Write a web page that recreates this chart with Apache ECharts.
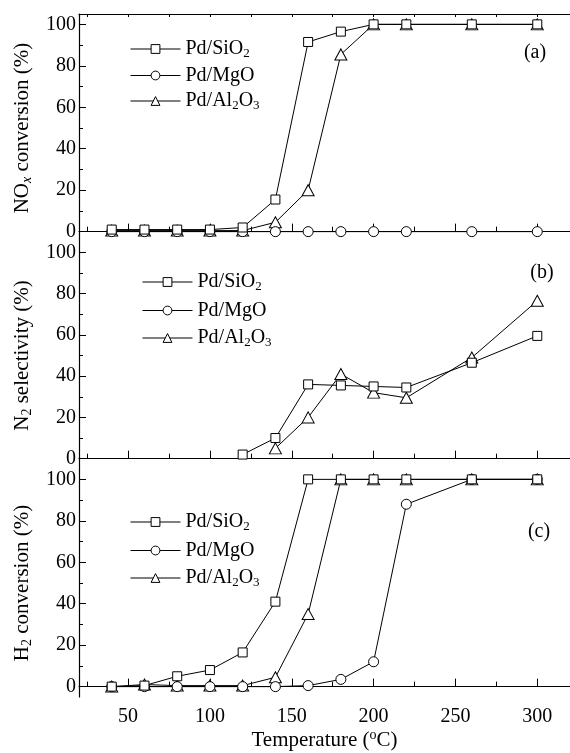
<!DOCTYPE html>
<html>
<head>
<meta charset="utf-8">
<script src="https://cdn.jsdelivr.net/npm/echarts@6/dist/echarts.min.js"></script>
<style>
html,body{margin:0;padding:0;background:#fff;}
#main{width:570px;height:753px;}
</style>
</head>
<body>
<div id="main"></div>
<script>
// temperatures (C)
var temps = [40, 60, 80, 100, 120, 140, 160, 180, 200, 220, 260, 300];
// (a) NOx conversion
var noxSiO2 = [1, 1, 1, 1, 2, 15.5, 91.5, 96.5, 100, 100, 100, 100];
var noxMgO = [0, 0, 0, 0, 0, 0, 0, 0, 0, 0, 0, 0];
var noxAl2O3 = [0.5, 0.5, 0.5, 0.5, 0.5, 4.5, 20, 85.5, 100, 100, 100, 100];
// (b) N2 selectivity
var n2SiO2 = [null, null, null, null, 2, 10, 36, 35.5, 35, 34.5, 46.5, 59.5];
var n2MgO = [];
var n2Al2O3 = [null, null, null, null, null, 5, 20, 41, 32, 29.5, 49, 76.5];
// (c) H2 conversion
var h2SiO2 = [0, 0.5, 5, 8, 16.5, 41, 100, 100, 100, 100, 100, 100];
var h2MgO = [0, 0, 0, 0, 0, 0, 0.5, 3.5, 12, 88, 100, 100];
var h2Al2O3 = [0, 1, 0.5, 0.5, 0.5, 4.5, 35, 100, 100, 100, 100, 100];

var names = ['Pd/SiO2', 'Pd/MgO', 'Pd/Al2O3'];
var yTicks = [0, 20, 40, 60, 80, 100];
var yMinor = [10, 30, 50, 70, 90];
var xTicks = [50, 100, 150, 200, 250, 300];
var xMinor = [25, 75, 125, 175, 225, 275];
var xAll = [25, 50, 75, 100, 125, 150, 175, 200, 225, 250, 275, 300];
var panelTags = ['(a)', '(b)', '(c)'];

var FONT = '"Liberation Serif", "Times New Roman", serif';
var symbols = {'Pd/SiO2': 'rect', 'Pd/MgO': 'circle', 'Pd/Al2O3': 'triangle'};
var symSize = {'Pd/SiO2': 9, 'Pd/MgO': 10, 'Pd/Al2O3': [12, 11]};

var grids = [
    {left: 79, right: -1, top: 14, height: 228},
    {left: 79, right: -1, top: 242, height: 227},
    {left: 79, right: -1, top: 469, height: 228}
];

var lineCol = '#000';
var xAxes = [], yAxes = [], series = [], legends = [], graphics = [];

var yNames = [
    '{a|NO}{i|x}{a| conversion (%)}',
    '{a|N}{s|2}{a| selectivity (%)}',
    '{a|H}{s|2}{a| conversion (%)}'
];
var nameRich = {
    a: {fontSize: 21, fontFamily: FONT, color: '#000', lineHeight: 24},
    s: {fontSize: 14, fontFamily: FONT, color: '#000', verticalAlign: 'bottom', lineHeight: 14},
    i: {fontSize: 14, fontFamily: FONT, fontStyle: 'italic', color: '#000', verticalAlign: 'bottom', lineHeight: 14},
    o: {fontSize: 14, fontFamily: FONT, color: '#000', verticalAlign: 'top', lineHeight: 14}
};

function legendFmt(n){
    return n.replace(/([^\d]+)/g, '{n|$1}').replace(/(\d)/g, '{s|$1}');
}
var legendRich = {
    n: {fontSize: 20, fontFamily: FONT, color: '#000', lineHeight: 22},
    s: {fontSize: 13, fontFamily: FONT, color: '#000', verticalAlign: 'bottom', lineHeight: 13}
};

var legendPos = [
    {left: 130, top: 39, itemGap: 5.5},
    {left: 142, top: 272, itemGap: 7.5},
    {left: 130, top: 512, itemGap: 7.5}
];
var tagPos = [[535, 53], [542, 273], [539, 532]];

var panelData = [
    [noxSiO2, noxMgO, noxAl2O3],
    [n2SiO2, n2MgO, n2Al2O3],
    [h2SiO2, h2MgO, h2Al2O3]
];

for (var g = 0; g < 3; g++) {
    var last = g == 2;
    // main bottom axis (major ticks)
    xAxes.push({
        gridIndex: g, type: 'value', min: 20, max: 320, position: 'bottom',
        axisLine: {show: true, lineStyle: {color: lineCol, width: 1.2}},
        axisTick: {show: true, inside: true, length: 8, customValues: xTicks, lineStyle: {color: lineCol}},
        axisLabel: {show: last, customValues: xTicks, margin: 10, color: '#000', fontSize: 20, fontFamily: FONT},
        splitLine: {show: false},
        name: last ? '{a|Temperature (}{o|o}{a|C)}' : '',
        nameLocation: 'middle', nameGap: 31,
        nameTextStyle: {rich: nameRich}
    });
    // minor bottom ticks
    xAxes.push({
        gridIndex: g, type: 'value', min: 20, max: 320, position: 'bottom',
        axisLine: {show: false},
        axisTick: {show: true, inside: true, length: 5, customValues: xMinor, lineStyle: {color: lineCol}},
        axisLabel: {show: false},
        splitLine: {show: false}
    });
    yAxes.push({
        gridIndex: g, type: 'value', min: -5, max: 105, position: 'left',
        axisLine: {show: true, lineStyle: {color: lineCol, width: 1.2}},
        axisTick: {show: true, inside: true, length: 7, customValues: yTicks, lineStyle: {color: lineCol}},
        axisLabel: {customValues: yTicks, margin: 3, color: '#000', fontSize: 20, fontFamily: FONT},
        splitLine: {show: false},
        name: yNames[g], nameLocation: 'middle', nameRotate: 90, nameGap: 45,
        nameTextStyle: {rich: nameRich}
    });
    yAxes.push({
        gridIndex: g, type: 'value', min: -5, max: 105, position: 'left',
        axisLine: {show: false},
        axisTick: {show: true, inside: true, length: 4, customValues: yMinor, lineStyle: {color: lineCol}},
        axisLabel: {show: false},
        splitLine: {show: false}
    });
    for (var k = 0; k < 3; k++) {
        var vals = panelData[g][k];
        var pts = [];
        for (var t = 0; t < vals.length; t++) {
            if (vals[t] != null) pts.push([temps[t], vals[t]]);
        }
        series.push({
            name: names[k], type: 'line',
            xAxisIndex: g * 2, yAxisIndex: g * 2,
            data: pts,
            symbol: symbols[names[k]], symbolSize: symSize[names[k]],
            showAllSymbol: true,
            lineStyle: {color: '#000', width: 1},
            itemStyle: {color: '#fff', borderColor: '#000', borderWidth: 1},
            z: 3 - k,
            animation: false
        });
    }
    legends.push({
        orient: 'vertical', left: legendPos[g].left, top: legendPos[g].top,
        padding: 0,
        itemGap: legendPos[g].itemGap, itemWidth: 50, itemHeight: 11,
        data: names, selectedMode: false,
        lineStyle: {width: 1, color: '#000'},
        itemStyle: {color: '#fff', borderColor: '#000', borderWidth: 1},
        formatter: legendFmt,
        textStyle: {rich: legendRich}
    });
    graphics.push({
        type: 'text', x: tagPos[g][0], y: tagPos[g][1],
        style: {text: panelTags[g], font: '20px ' + FONT, fill: '#000', textAlign: 'center', textVerticalAlign: 'middle'}
    });
}

// top frame of panel (a)
xAxes.push({
    gridIndex: 0, type: 'value', min: 20, max: 320, position: 'top',
    axisLine: {show: true, lineStyle: {color: lineCol, width: 1.2}},
    axisTick: {show: true, inside: true, length: 3, customValues: xAll, lineStyle: {color: lineCol}},
    axisLabel: {show: false},
    splitLine: {show: false}
});

var chart = echarts.init(document.getElementById('main'), null, {renderer: 'canvas'});
chart.setOption({
    animation: false,
    backgroundColor: '#fff',
    grid: grids,
    xAxis: xAxes,
    yAxis: yAxes,
    legend: legends,
    graphic: graphics,
    series: series
});
</script>
</body>
</html>
